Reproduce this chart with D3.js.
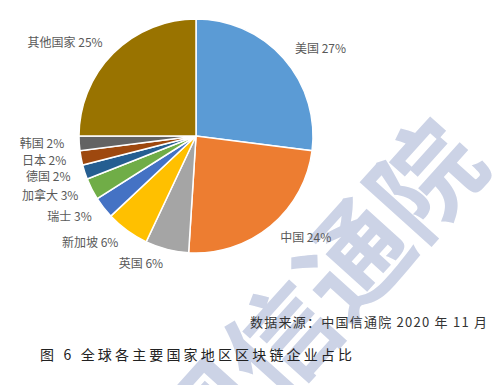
<!DOCTYPE html>
<html>
<head>
<meta charset="utf-8">
<script src="https://cdn.jsdelivr.net/npm/d3@7"></script>
<style>
  body { margin: 0; background: #fff; }
  svg { display: block; }
</style>
</head>
<body>
<script>
// data
var countries = ["美国", "中国", "英国", "新加坡", "瑞士", "加拿大", "德国", "日本", "韩国", "其他国家"];
var shares = [27, 24, 6, 6, 3, 3, 2, 2, 2, 25];
var colors = ["#5B9BD5", "#ED7D31", "#A5A5A5", "#FFC000", "#4472C4", "#70AD47", "#255E91", "#9E480E", "#636363", "#997300"];
var sourceText = "数据来源：中国信通院 2020 年 11 月";
var captionText = "图 6 全球各主要国家地区区块链企业占比";
var watermarkText = "中国信通院";

var width = 500, height = 385;
var cx = 196, cy = 136, radius = 117;

var dataset = countries.map(function (c, i) {
    return { name: c, value: shares[i], color: colors[i] };
});

var svg = d3.select("body").append("svg")
    .attr("width", width)
    .attr("height", height);

// watermark behind everything
svg.append("text")
    .attr("transform", "translate(492,166) rotate(-48)")
    .attr("text-anchor", "end")
    .style("font-family", "'Noto Sans CJK SC'")
    .style("font-weight", "700")
    .style("font-size", "108px")
    .style("fill", "#ccd3e6")
    .text(watermarkText);

var pie = d3.pie()
    .sort(null)
    .value(function (d) { return d.value; });

var arc = d3.arc()
    .innerRadius(0)
    .outerRadius(radius);

// labels sit just outside this ring, pushed away from the pie on their side
var labelArc = d3.arc()
    .innerRadius(radius + 15)
    .outerRadius(radius + 15);

var g = svg.append("g")
    .attr("transform", "translate(" + cx + "," + cy + ")");

var arcs = pie(dataset);

g.selectAll(".slice")
    .data(arcs)
    .enter().append("path")
    .attr("class", "slice")
    .attr("d", arc)
    .style("fill", function (d) { return d.data.color; })
    .style("stroke", "#fff")
    .style("stroke-width", 1.5);

function midAngle(d) { return (d.startAngle + d.endAngle) / 2; }

g.selectAll(".label")
    .data(arcs)
    .enter().append("text")
    .attr("class", "label")
    .attr("transform", function (d) {
        var p = labelArc.centroid(d);
        return "translate(" + p[0] + "," + p[1] + ")";
    })
    .attr("text-anchor", function (d) { return midAngle(d) < Math.PI ? "start" : "end"; })
    .attr("dy", "0.35em")
    .style("font-family", "'Noto Sans CJK SC', 'Noto Sans'")
    .style("font-size", "12px")
    .style("fill", "#595959")
    .text(function (d) { return d.data.name + " " + d.data.value + "%"; });

// source note
svg.append("text")
    .attr("x", 250)
    .attr("y", 327)
    .attr("textLength", 237)
    .attr("lengthAdjust", "spacing")
    .style("font-family", "'Noto Sans CJK SC'")
    .style("font-size", "13px")
    .style("fill", "#333")
    .text(sourceText);

// caption
svg.append("text")
    .attr("x", 40)
    .attr("y", 360)
    .attr("textLength", 312)
    .attr("lengthAdjust", "spacing")
    .style("font-family", "'Noto Sans CJK SC'")
    .style("font-size", "14px")
    .style("fill", "#222")
    .text(captionText);
</script>
</body>
</html>
